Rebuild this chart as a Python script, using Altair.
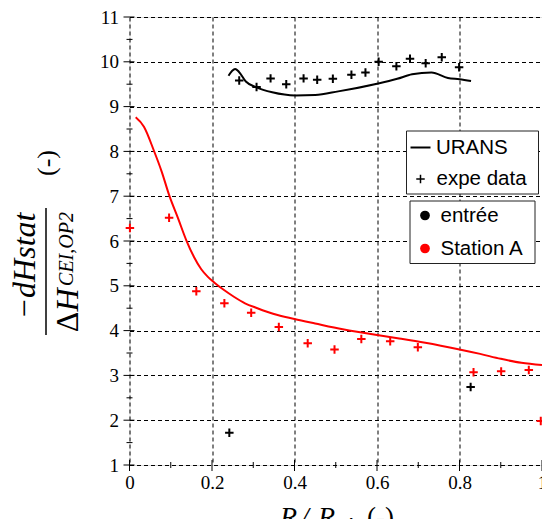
import altair as alt
import pandas as pd

# ---- data ----
entree_urans_r = [0.240, 0.249, 0.256, 0.265, 0.282, 0.308, 0.346, 0.402, 0.450, 0.506, 0.600, 0.649, 0.685, 0.732, 0.772, 0.800, 0.828]
entree_urans_v = [9.69, 9.80, 9.84, 9.78, 9.56, 9.43, 9.32, 9.25, 9.26, 9.34, 9.51, 9.62, 9.72, 9.76, 9.64, 9.61, 9.57]

station_urans_r = [0.015, 0.035, 0.059, 0.078, 0.097, 0.118, 0.138, 0.156, 0.174, 0.190, 0.206, 0.230, 0.254, 0.280, 0.310, 0.350, 0.400, 0.450, 0.517, 0.600, 0.650, 0.717, 0.800, 0.850, 0.900, 0.950, 1.000]
station_urans_v = [8.76, 8.55, 8.02, 7.55, 7.00, 6.50, 6.01, 5.65, 5.37, 5.20, 5.07, 4.90, 4.75, 4.61, 4.50, 4.37, 4.26, 4.16, 4.03, 3.90, 3.83, 3.73, 3.58, 3.48, 3.37, 3.28, 3.23]

entree_exp_r = [0.266, 0.308, 0.342, 0.380, 0.422, 0.455, 0.493, 0.538, 0.572, 0.604, 0.647, 0.680, 0.718, 0.757, 0.799, 0.242, 0.827]
entree_exp_v = [9.58, 9.44, 9.63, 9.50, 9.63, 9.60, 9.62, 9.71, 9.76, 10.00, 9.90, 10.07, 9.97, 10.10, 9.88, 1.72, 2.74]

station_exp_r = [0.001, 0.096, 0.162, 0.230, 0.295, 0.362, 0.432, 0.497, 0.562, 0.632, 0.699, 0.834, 0.901, 0.968, 0.997]
station_exp_v = [6.29, 6.52, 4.88, 4.61, 4.40, 4.08, 3.72, 3.58, 3.81, 3.76, 3.63, 3.07, 3.09, 3.12, 1.98]

series_names = ["entrée", "Station A"]
series_colors = ["#000000", "#ff0000"]
legend_kinds = ["URANS", "expe data"]

x_ticks = [0, 0.2, 0.4, 0.6, 0.8, 1.0]
x_minor = [0.1, 0.3, 0.5, 0.7, 0.9]
y_ticks = list(range(1, 12))
y_minor = [1.5, 2.5, 3.5, 4.5, 5.5, 6.5, 7.5, 8.5, 9.5, 10.5]

# ---- tables ----
urans = pd.concat([
    pd.DataFrame({"r": entree_urans_r, "v": entree_urans_v, "s": series_names[0]}),
    pd.DataFrame({"r": station_urans_r, "v": station_urans_v, "s": series_names[1]}),
])
exp = pd.concat([
    pd.DataFrame({"r": entree_exp_r, "v": entree_exp_v, "s": series_names[0]}),
    pd.DataFrame({"r": station_exp_r, "v": station_exp_v, "s": series_names[1]}),
])

W, H = 412.5, 448
PLUS = "M-1,0L1,0M0,-1L0,1"
SERIF = "Liberation Serif"
SANS = "Liberation Sans"

xs = alt.Scale(domain=[0, 1], nice=False, zero=False)
ys = alt.Scale(domain=[1, 11], nice=False, zero=False)
cs = alt.Scale(domain=series_names, range=series_colors)

x_axis = alt.Axis(values=x_ticks, format=".1~f", grid=True, gridDash=[4, 3], gridColor="#000000",
                  gridOpacity=1, domain=False, ticks=False, labelFont=SERIF, labelFontSize=19,
                  labelColor="black", labelPadding=8, title=None, labelFlush=False)
y_axis = alt.Axis(values=y_ticks, format="d", grid=True, gridDash=[4, 3], gridColor="#000000",
                  gridOpacity=1, domain=False, ticks=False, labelFont=SERIF, labelFontSize=19,
                  labelColor="black", labelPadding=11, title=None)

lines = alt.Chart(urans).mark_line(strokeWidth=2, interpolate="monotone").encode(
    x=alt.X("r:Q", scale=xs, axis=x_axis),
    y=alt.Y("v:Q", scale=ys, axis=y_axis),
    color=alt.Color("s:N", scale=cs, legend=None),
    detail="s:N",
)
points = alt.Chart(exp).mark_point(shape=PLUS, size=72, strokeWidth=2, filled=False, opacity=1).encode(
    x=alt.X("r:Q", scale=xs),
    y=alt.Y("v:Q", scale=ys),
    color=alt.Color("s:N", scale=cs, legend=None),
)

# crossing tick marks on the axes
yt_major = alt.Chart(pd.DataFrame({"v": y_ticks})).mark_rule(color="black", strokeWidth=1).encode(
    y=alt.Y("v:Q", scale=ys), x=alt.value(-6), x2=alt.value(5))
yt_minor = alt.Chart(pd.DataFrame({"v": y_minor})).mark_rule(color="black", strokeWidth=1).encode(
    y=alt.Y("v:Q", scale=ys), x=alt.value(-3), x2=alt.value(3))
xt_major = alt.Chart(pd.DataFrame({"r": x_ticks})).mark_rule(color="black", strokeWidth=1).encode(
    x=alt.X("r:Q", scale=xs), y=alt.value(H - 5), y2=alt.value(H + 6))
xt_minor = alt.Chart(pd.DataFrame({"r": x_minor})).mark_rule(color="black", strokeWidth=1).encode(
    x=alt.X("r:Q", scale=xs), y=alt.value(H - 3), y2=alt.value(H + 3))


def one():
    return alt.Chart(alt.Data(values=[{"k": 1}]))


def txt(text, x, y, size, font=SERIF, italic=False, angle=0, align="left", baseline="alphabetic", color="black"):
    return one().mark_text(text=text, font=font, fontSize=size, fontStyle="italic" if italic else "normal",
                           angle=angle, align=align, baseline=baseline, color=color).encode(
        x=alt.value(x), y=alt.value(y))


# legend boxes
box1 = one().mark_rect(fill="white", stroke="#222222", strokeWidth=1).encode(
    x=alt.value(277), x2=alt.value(409), y=alt.value(114), y2=alt.value(177))
box2 = one().mark_rect(fill="white", stroke="#222222", strokeWidth=1).encode(
    x=alt.value(280.5), x2=alt.value(405.5), y=alt.value(184), y2=alt.value(246.5))
leg_line = one().mark_rule(color="black", strokeWidth=2).encode(
    x=alt.value(281), x2=alt.value(301), y=alt.value(130.5))
leg_plus = one().mark_point(shape=PLUS, size=72, strokeWidth=1.5, color="black", filled=False, opacity=1).encode(
    x=alt.value(291), y=alt.value(162))
leg_dot1 = one().mark_circle(size=95, color=series_colors[0], opacity=1).encode(
    x=alt.value(295.5), y=alt.value(198.5))
leg_dot2 = one().mark_circle(size=95, color=series_colors[1], opacity=1).encode(
    x=alt.value(295.5), y=alt.value(231.5))
leg_t1 = txt(legend_kinds[0], 306.5, 131, 20.5, font=SANS, baseline="middle")
leg_t2 = txt(legend_kinds[1], 307, 161.5, 20.5, font=SANS, baseline="middle")
leg_t3 = txt(series_names[0], 311, 198.5, 20.5, font=SANS, baseline="middle")
leg_t4 = txt(series_names[1], 311, 231.5, 20.5, font=SANS, baseline="middle")

# y axis title: fraction  -dHstat / ΔH_{CEI,OP2}  (-)
yt_num = txt("\u2212dHstat", -94.5, 249, 32, italic=True, angle=270, align="center")
yt_bar = one().mark_rule(color="black", strokeWidth=1.5).encode(
    x=alt.value(-83.5), y=alt.value(191), y2=alt.value(318))
yt_delta = txt("\u0394", -51.5, 305, 32, angle=270, align="center")
yt_h = txt("H", -51.5, 283, 32, italic=True, angle=270, align="center")
yt_sub = txt("CEI,OP2", -57, 232, 20, italic=True, angle=270, align="center")
yt_unit = txt("(-)", -82.5, 146, 26, angle=270, align="center", baseline="middle")

# x axis title: R/R_A (-)
xt_r1 = txt("R", 150.5, 508.5, 28, italic=True)
xt_sl = txt("/", 171.5, 508.5, 28, italic=True)
xt_r2 = txt("R", 188.5, 508.5, 28, italic=True)
xt_a = txt("A", 214.5, 513.5, 19, italic=True)
xt_unit = txt("(-)", 237.5, 508.5, 27)

chart = alt.layer(
    lines, points, yt_major, yt_minor, xt_major, xt_minor,
    box1, box2, leg_line, leg_plus, leg_dot1, leg_dot2, leg_t1, leg_t2, leg_t3, leg_t4,
    yt_num, yt_bar, yt_delta, yt_h, yt_sub, yt_unit,
    xt_r1, xt_sl, xt_r2, xt_a, xt_unit,
).properties(
    width=W, height=H,
    autosize=alt.AutoSizeParams(type="none"),
    padding={"left": 121.5, "top": 9, "right": 0, "bottom": 60},
).configure_view(stroke=None).configure(background="white")

chart.save("out.html", embed_options={"renderer": "svg", "actions": False})
